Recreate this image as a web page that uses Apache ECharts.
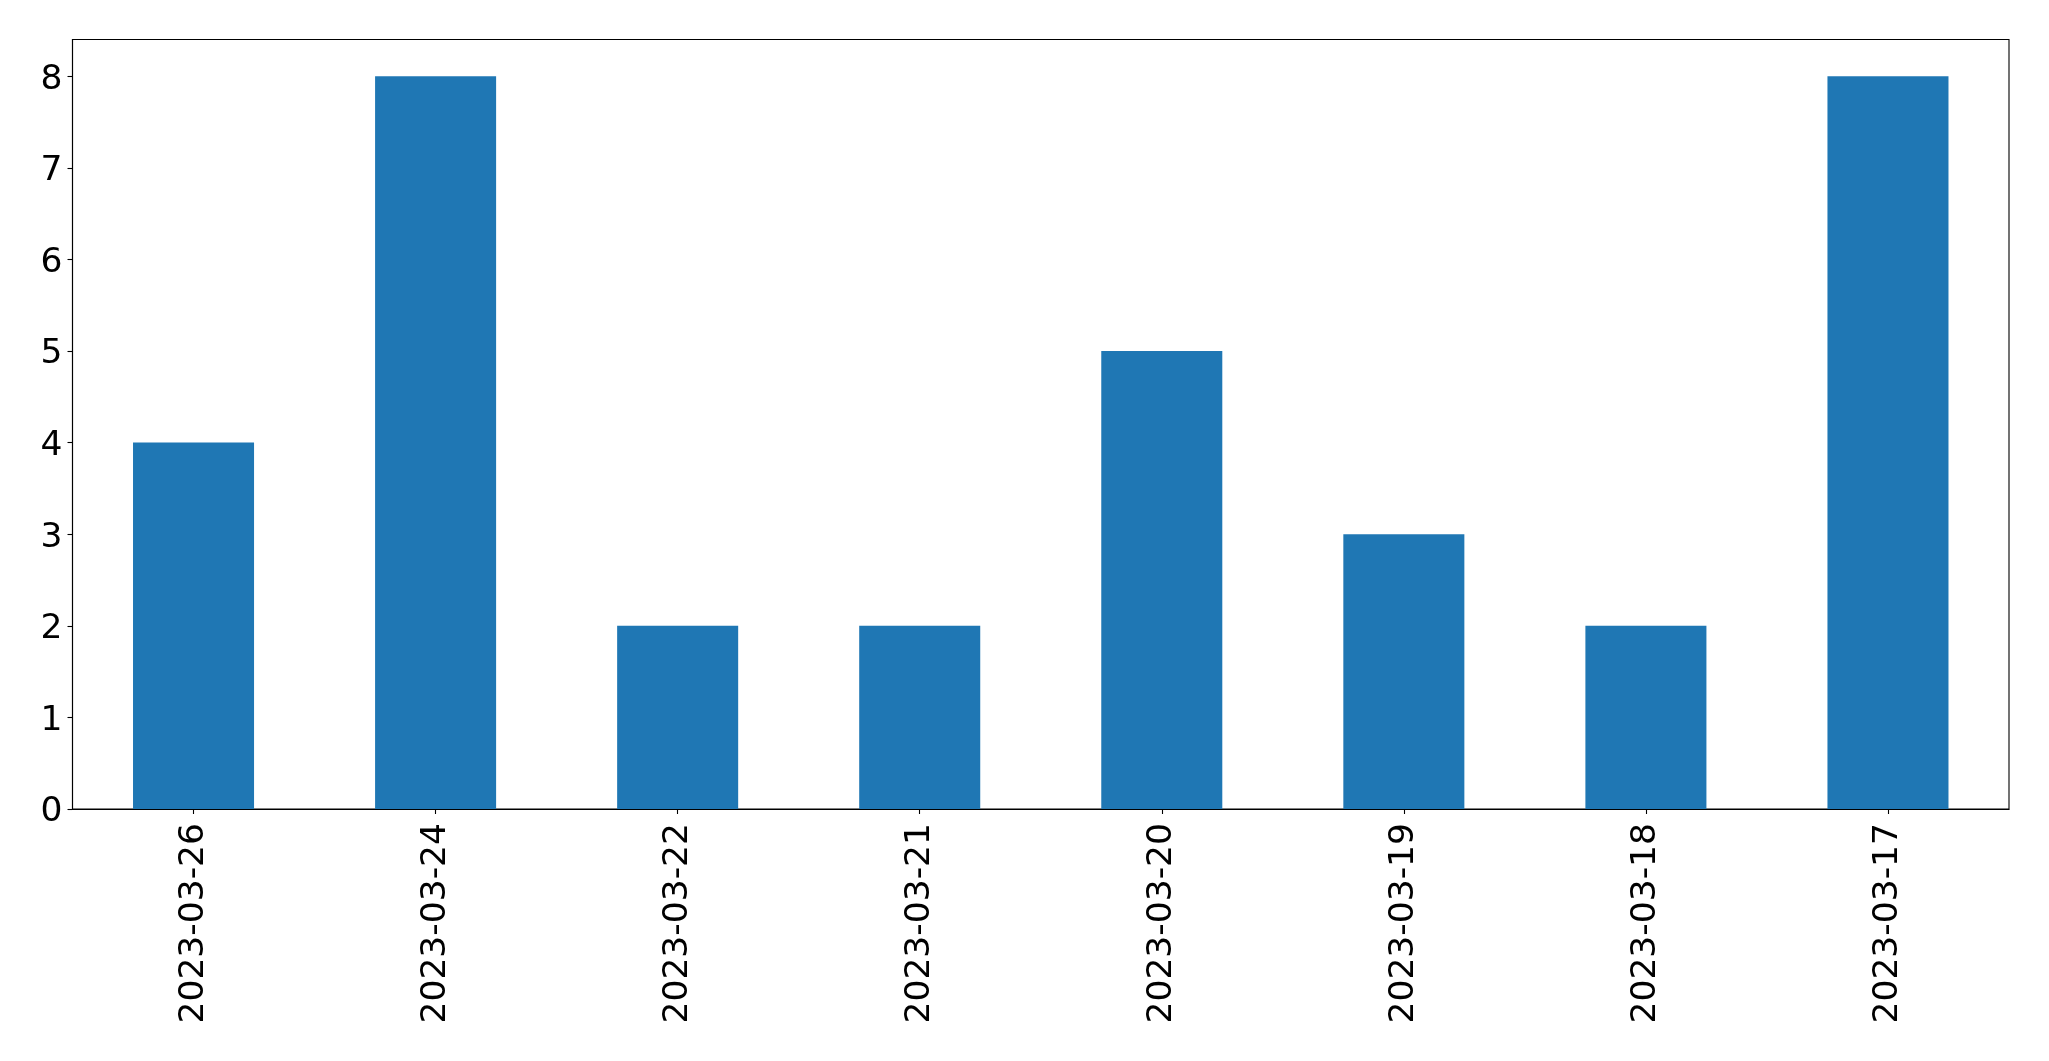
<!DOCTYPE html>
<html>
<head>
<meta charset="utf-8">
<script src="https://cdn.jsdelivr.net/npm/echarts@6/dist/echarts.min.js"></script>
<style>
html,body{margin:0;padding:0;background:#fff;}
#chart{width:2049px;height:1061px;}
</style>
</head>
<body>
<div id="chart"></div>
<script>
const categories = ['2023-03-26','2023-03-24','2023-03-22','2023-03-21','2023-03-20','2023-03-19','2023-03-18','2023-03-17'];
const values = [4, 8, 2, 2, 5, 3, 2, 8];
const yTicks = [0,1,2,3,4,5,6,7,8];

const chart = echarts.init(document.getElementById('chart'), null, {renderer:'canvas'});
const font = 'DejaVu Sans';
chart.setOption({
  animation: false,
  backgroundColor: '#ffffff',
  grid: {
    left: 72.5, right: 40, top: 39.5, bottom: 252,
    show: true, borderColor: '#000', borderWidth: 1.1, backgroundColor: 'transparent'
  },
  xAxis: {
    type: 'category',
    data: categories,
    boundaryGap: true,
    axisLine: {show: true, lineStyle: {color: '#000', width: 1.1}},
    axisTick: {show: true, alignWithLabel: true, length: 5, lineStyle: {color: '#000', width: 1.1}},
    axisLabel: {rotate: 90, margin: 14, color: '#000', fontFamily: font, fontSize: 34.5, interval: 0}
  },
  yAxis: {
    type: 'value',
    min: 0, max: 8.4, interval: 1,
    splitLine: {show: false},
    axisLine: {show: true, lineStyle: {color: '#000', width: 1.1}},
    axisTick: {show: true, length: 5, customValues: yTicks, lineStyle: {color: '#000', width: 1.1}},
    axisLabel: {
      margin: 10, color: '#000', fontFamily: font, fontSize: 34.5,
      customValues: yTicks,
      formatter: function (v) { return yTicks.indexOf(v) >= 0 ? '{n|' + v + '}' : ''; },
      rich: {n: {fontFamily: font, fontSize: 34.5, color: '#000', padding: [7, 0, 0, 0]}}
    }
  },
  series: [{
    type: 'bar',
    data: values,
    barWidth: '50%',
    itemStyle: {color: '#1f77b4'}
  }]
});
</script>
</body>
</html>
